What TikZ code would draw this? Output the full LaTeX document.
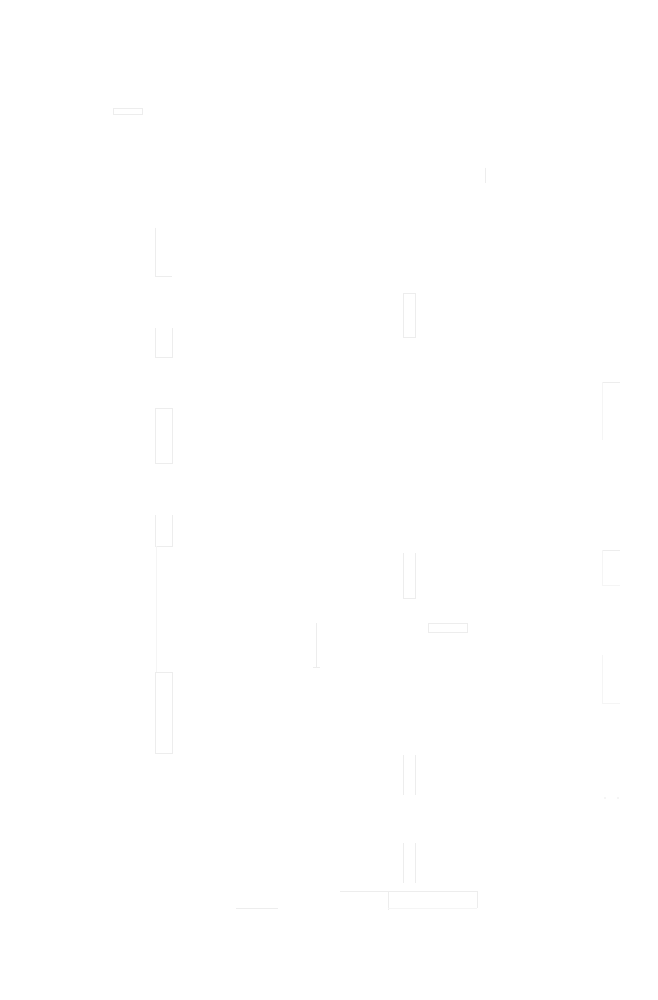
\documentclass[tikz,border=0pt]{standalone}
\begin{document}
\begin{tikzpicture}[x=1pt,y=-1pt,
  ghost/.style={draw=black!7,line width=0.8pt},
  ghostfaint/.style={draw=black!4,line width=0.8pt}]
\fill[white] (0,0) rectangle (657,1000);
\useasboundingbox (0,0) rectangle (657,1000);
% top small box
\draw[ghost] (113,108) rectangle (142,114);
\draw[ghost] (485,168) -- (485,183);
% left column
\draw[ghost] (155,228) -- (155,276) -- (172,276);
\draw[ghost] (155,328) -- (155,357) -- (172,357) -- (172,328);
\draw[ghost] (155,408) rectangle (172,463);
\draw[ghost] (155,515) -- (155,546) -- (172,546) -- (172,515);
\draw[ghostfaint] (156,546) -- (156,672);
\draw[ghost] (155,672) rectangle (172,753);
% centre column
\draw[ghost] (403,293) rectangle (415,337);
\draw[ghost] (403,553) -- (403,598) -- (415,598) -- (415,553);
\draw[ghost] (403,755) -- (403,795);
\draw[ghost] (415,755) -- (415,795);
\draw[ghost] (403,843) -- (403,883);
\draw[ghost] (415,843) -- (415,883);
\draw[ghost] (428,623) rectangle (467,632);
\draw[ghost] (316,623) -- (316,667);
\draw[ghost] (313,667) -- (320,667);
% right column
\draw[ghost] (602,382) -- (620,382);
\draw[ghostfaint] (602,382) -- (602,440);
\draw[ghost] (602,550) -- (620,550);
\draw[ghostfaint] (602,550) -- (602,585) -- (620,585);
\draw[ghostfaint] (602,655) -- (602,703) -- (620,703);
\fill[black!8] (605,798) circle (0.8);
\fill[black!8] (618,798) circle (0.8);
% bottom
\draw[ghost] (340,891) -- (477,891);
\draw[ghost] (388,891) -- (388,910);
\draw[ghost] (477,891) -- (477,908);
\draw[ghost] (236,908) -- (278,908);
\draw[ghostfaint] (388,908) -- (477,908);
\end{tikzpicture}
\end{document}
